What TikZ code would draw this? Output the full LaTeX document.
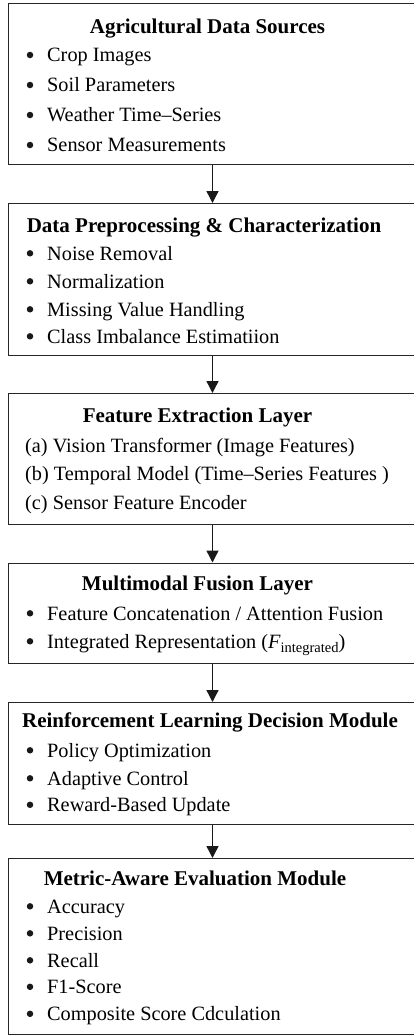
\documentclass[tikz,border=0pt]{standalone}
\usepackage{fontspec}
\setmainfont{Liberation Serif}
\usetikzlibrary{arrows.meta}
\tikzset{
  box/.style={draw=black!85, line width=1.4pt, minimum width=420pt, inner sep=0pt, anchor=north west},
  ttl/.style={inner sep=0pt, anchor=base, font=\fontsize{21}{25}\selectfont\bfseries},
  itm/.style={inner sep=0pt, anchor=base west, font=\fontsize{20.3}{24}\selectfont},
  bul/.style={circle, fill=black!90, inner sep=0pt, minimum size=6.5pt, yshift=6.7pt},
  arr/.style={draw=black!90, line width=1.4pt, -{Triangle[width=12pt,length=12pt]}}
}
\begin{document}
\begin{tikzpicture}[x=1pt,y=-1pt]
\useasboundingbox (0,0) rectangle (414,1036);
% boxes
\node[box, minimum height=161pt] (b1) at (8,3) {};
\node[box, minimum height=152pt] (b2) at (8,203) {};
\node[box, minimum height=131pt] (b3) at (8,393) {};
\node[box, minimum height=100.5pt] (b4) at (8,562.5) {};
\node[box, minimum height=122pt] (b5) at (8,702) {};
\node[box, minimum height=176pt] (b6) at (8,858) {};
\coordinate (ax) at (212.5,0);
% box 1
\node[ttl] (t1) at (207.5,33) {Agricultural Data Sources};
\node[bul] (p11) at (30,61.7) {};
\node[itm] (i11) at (47,61.7) {Crop Images};
\node[bul] (p12) at (30,91.7) {};
\node[itm] (i12) at (47,91.7) {Soil Parameters};
\node[bul] (p13) at (30,121.7) {};
\node[itm] (i13) at (47,121.7) {Weather Time–Series};
\node[bul] (p14) at (30,151.7) {};
\node[itm] (i14) at (47,151.7) {Sensor Measurements};
% box 2
\node[ttl] (t2) at (204,232) {Data Preprocessing \& Characterization};
\node[bul] (p21) at (30,260) {};
\node[itm] (i21) at (47,260) {Noise Removal};
\node[bul] (p22) at (30,288) {};
\node[itm] (i22) at (47,288) {Normalization};
\node[bul] (p23) at (30,316) {};
\node[itm] (i23) at (47,316) {Missing Value Handling};
\node[bul] (p24) at (30,343) {};
\node[itm] (i24) at (47,343) {Class Imbalance Estimatiion};
% box 3
\node[ttl] (t3) at (197.5,422) {Feature Extraction Layer};
\node[itm] (i31) at (25,452) {(a) Vision Transformer (Image Features)};
\node[itm] (i32) at (25,480) {(b) Temporal Model (Time–Series Features )};
\node[itm] (i33) at (25,509) {(c) Sensor Feature Encoder};
% box 4
\node[ttl] (t4) at (197.5,590) {Multimodal Fusion Layer};
\node[bul] (p41) at (30,620) {};
\node[itm] (i41) at (47,620) {Feature Concatenation / Attention Fusion};
\node[bul] (p42) at (30,648) {};
\node[itm] (i42) at (47,648) {Integrated Representation ({\itshape F}\raisebox{-4pt}{\fontsize{14.5}{16}\selectfont integrated})};
% box 5
\node[ttl] (t5) at (210,727) {Reinforcement Learning Decision Module};
\node[bul] (p51) at (30,757) {};
\node[itm] (i51) at (47,757) {Policy Optimization};
\node[bul] (p52) at (30,785) {};
\node[itm] (i52) at (47,785) {Adaptive Control};
\node[bul] (p53) at (30,811.5) {};
\node[itm] (i53) at (47,811.5) {Reward-Based Update};
% box 6
\node[ttl] (t6) at (195,885) {Metric-Aware Evaluation Module};
\node[bul] (p61) at (30,913) {};
\node[itm] (i61) at (47,913) {Accuracy};
\node[bul] (p62) at (30,940) {};
\node[itm] (i62) at (47,940) {Precision};
\node[bul] (p63) at (30,967) {};
\node[itm] (i63) at (47,967) {Recall};
\node[bul] (p64) at (30,993.5) {};
\node[itm] (i64) at (47,993.5) {F1-Score};
\node[bul] (p65) at (30,1020.5) {};
\node[itm] (i65) at (47,1020.5) {Composite Score Cdculation};
% arrows
\draw[arr] (b1.south -| ax) -- (b2.north -| ax);
\draw[arr] (b2.south -| ax) -- (b3.north -| ax);
\draw[arr] (b3.south -| ax) -- (b4.north -| ax);
\draw[arr] (b4.south -| ax) -- (b5.north -| ax);
\draw[arr] (b5.south -| ax) -- (b6.north -| ax);
\end{tikzpicture}
\end{document}
